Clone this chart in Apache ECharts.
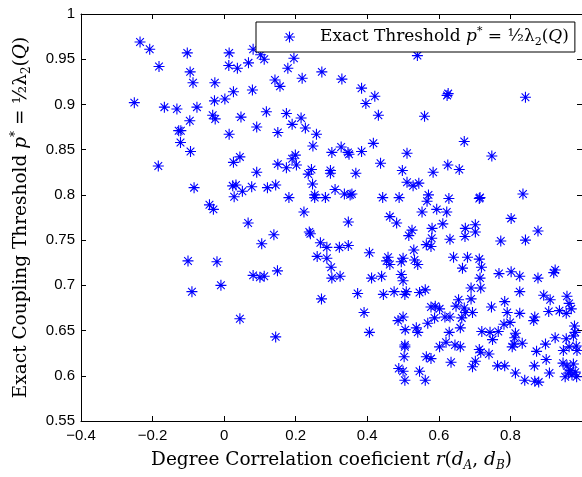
<!DOCTYPE html>
<html>
<head>
<meta charset="utf-8">
<script src="https://cdn.jsdelivr.net/npm/echarts@6/dist/echarts.min.js"></script>
<style>
html,body{margin:0;padding:0;background:#fff;}
#chart{width:582px;height:477px;}
</style>
</head>
<body>
<div id="chart"></div>
<script>
// Degree correlation coefficient r(dA,dB) and exact threshold p*
const rValues = [
-0.235,-0.208,-0.182,-0.251,-0.103,-0.095,-0.087,-0.167,-0.132,-0.076,-0.096,-0.127,-0.121,-0.122,-0.032,-0.025,-0.026,-0.027,0.002,0.014,0.013,0.026,0.014,
0.081,0.102,0.112,0.037,0.068,0.195,0.178,0.273,0.218,0.142,0.156,0.329,0.079,0.384,0.421,0.396,0.431,0.047,0.118,0.174,0.215,0.190,0.227,0.091,0.150,0.258,0.248,0.327,0.417,
0.540,0.623,0.626,0.842,0.560,0.671,
-0.094,-0.184,0.026,-0.084,0.024,0.028,-0.041,-0.030,-0.101,-0.020,
0.044,0.301,0.346,0.349,0.384,0.511,0.199,0.190,0.202,0.150,0.174,0.091,0.244,0.235,0.297,0.297,0.368,0.437,0.498,0.511,0.247,0.033,0.051,0.077,0.121,0.144,0.181,0.253,0.253,0.283,0.310,0.336,0.357,0.352,0.443,0.489,0.223,0.067,0.347,0.463,0.482,0.516,0.139,0.238,0.241,0.105,0.269,0.287,0.322,0.347,0.260,0.287,0.299,0.406,0.458,0.454,0.463,0.500,0.495,0.081,0.100,0.112,0.149,0.301,0.324,0.412,0.440,0.495,
0.748,0.625,0.657,0.584,0.528,0.544,0.571,0.567,0.628,0.713,0.715,0.835,0.553,0.594,0.622,0.802,0.611,0.525,0.581,0.674,0.702,0.702,0.673,0.580,0.631,0.773,0.842,0.877,0.530,0.565,0.578,0.532,0.541,0.641,0.680,0.713,0.719,0.666,0.768,0.802,0.826,0.877,0.925,0.921,0.715,
0.500,0.272,0.373,0.445,0.475,0.505,0.509,0.044,0.391,0.486,0.500,0.506,0.144,0.406,0.505,0.505,0.503,0.488,0.500,0.505,
-0.090,-0.009,
0.690,0.717,0.546,0.562,0.655,0.690,0.784,0.826,0.893,0.911,0.958,0.964,0.970,0.578,0.590,0.602,0.648,0.671,0.674,0.694,0.747,0.791,0.826,0.868,0.865,0.907,0.937,0.956,0.588,0.617,0.631,0.664,0.782,0.799,0.537,0.541,0.569,0.629,0.660,0.720,0.743,0.766,0.750,0.814,0.812,0.810,0.805,0.833,0.979,0.981,0.976,0.602,0.620,0.645,0.660,0.713,0.717,0.740,0.898,0.925,0.956,0.948,0.964,0.984,0.986,0.873,0.565,0.578,0.634,0.702,0.694,0.764,0.784,0.867,0.900,0.947,0.958,0.967,0.976,0.981,0.972,0.985,0.953,0.962,0.546,0.562,0.814,0.840,0.868,0.879,0.909
];
const pValues = [
0.969,0.961,0.942,0.902,0.957,0.936,0.924,0.897,0.895,0.897,0.882,0.871,0.871,0.858,0.888,0.884,0.924,0.904,0.906,0.957,0.943,0.914,0.867,
0.961,0.955,0.950,0.940,0.946,0.951,0.940,0.936,0.929,0.927,0.920,0.928,0.916,0.918,0.909,0.901,0.888,0.886,0.892,0.890,0.885,0.878,0.874,0.875,0.869,0.867,0.854,0.853,0.857,
0.954,0.910,0.912,0.908,0.887,0.859,
0.848,0.832,0.836,0.808,0.810,0.798,0.789,0.784,0.727,0.726,
0.842,0.847,0.847,0.845,0.848,0.846,0.844,0.840,0.833,0.834,0.830,0.825,0.828,0.823,0.827,0.824,0.824,0.835,0.827,0.814,0.812,0.811,0.804,0.809,0.808,0.811,0.797,0.800,0.797,0.797,0.806,0.801,0.801,0.800,0.797,0.797,0.781,0.769,0.770,0.776,0.769,0.755,0.756,0.759,0.757,0.746,0.747,0.742,0.742,0.744,0.732,0.730,0.720,0.736,0.731,0.727,0.723,0.730,0.726,0.711,0.709,0.710,0.716,0.708,0.710,0.708,0.710,0.712,
0.843,0.833,0.828,0.825,0.810,0.813,0.800,0.793,0.796,0.796,0.797,0.801,0.781,0.784,0.781,0.774,0.768,0.761,0.763,0.763,0.767,0.759,0.754,0.752,0.751,0.749,0.750,0.760,0.739,0.745,0.743,0.728,0.723,0.731,0.731,0.729,0.720,0.719,0.713,0.715,0.710,0.708,0.717,0.714,0.708,
0.705,0.685,0.691,0.690,0.693,0.690,0.693,0.663,0.670,0.661,0.665,0.651,0.643,0.648,0.634,0.632,0.621,0.608,0.605,0.595,
0.693,0.700,
0.697,0.697,0.692,0.695,0.684,0.685,0.682,0.693,0.689,0.684,0.688,0.680,0.674,0.676,0.677,0.674,0.677,0.675,0.670,0.670,0.676,0.670,0.669,0.665,0.661,0.671,0.672,0.669,0.664,0.665,0.665,0.664,0.657,0.659,0.653,0.648,0.658,0.648,0.653,0.649,0.648,0.649,0.640,0.647,0.642,0.635,0.632,0.636,0.655,0.648,0.644,0.632,0.637,0.634,0.632,0.629,0.626,0.624,0.635,0.642,0.641,0.628,0.632,0.633,0.628,0.627,0.621,0.619,0.615,0.616,0.610,0.611,0.611,0.611,0.618,0.614,0.611,0.606,0.613,0.604,0.601,0.599,0.599,0.603,0.605,0.595,0.603,0.595,0.594,0.593,0.603
];
const xTicks = [-0.4, -0.2, 0, 0.2, 0.4, 0.6, 0.8, 1];
const yTicks = [0.55, 0.6, 0.65, 0.7, 0.75, 0.8, 0.85, 0.9, 0.95, 1];

const points = rValues.map((r, i) => [r, pValues[i]]);

const asterisk = 'path://M9 0H11V20H9Z M0 9H20V11H0Z M3.7 2.3L17.7 16.3L16.3 17.7L2.3 3.7Z M17.7 3.7L3.7 17.7L2.3 16.3L16.3 2.3Z';

const serif = '"DejaVu Serif", "Liberation Serif", serif';
const sans = '"Liberation Sans", Arial, sans-serif';

function fmtTick(v) {
  let s = String(Math.round(v * 100) / 100);
  return s.replace('-', '\u2212');
}

function makeRich(size) {
  const small = Math.round(size * 0.65);
  return {
    i: { fontFamily: serif, fontStyle: 'italic', fontSize: size, color: '#000' },
    sub: { fontFamily: serif, fontSize: small, verticalAlign: 'bottom', color: '#000' },
    isub: { fontFamily: serif, fontStyle: 'italic', fontSize: small, verticalAlign: 'bottom', color: '#000' },
    sup: { fontFamily: serif, fontSize: small, verticalAlign: 'top', color: '#000' },
    gap: { width: 20 }
  };
}

const chart = echarts.init(document.getElementById('chart'), null, { renderer: 'canvas' });
const option = {
  animation: false,
  backgroundColor: '#fff',
  grid: { left: 81, top: 14, right: -4, bottom: 49, containLabel: false },
  legend: {
    left: 256, top: 22,
    padding: [4, 6, 4, 28],
    itemWidth: 11, itemHeight: 11,
    borderColor: '#000', borderWidth: 1, borderRadius: 0,
    backgroundColor: '#fff',
    data: [{ name: 'Exact Threshold', icon: asterisk, itemStyle: { color: '#0000ff' } }],
    formatter: function () {
      return '{gap|}Exact Threshold {i|p}{sup|*} = ½λ{sub|2}({i|Q})';
    },
    textStyle: {
      fontFamily: serif, fontSize: 17, color: '#000', lineHeight: 22,
      rich: makeRich(17)
    }
  },
  xAxis: [{
    type: 'value', min: -0.4, max: 1, interval: 0.2,
    position: 'bottom',
    name: 'Degree Correlation coeficient {i|r}({i|d}{isub|A}, {i|d}{isub|B})',
    nameLocation: 'middle', nameGap: 28,
    nameTextStyle: { fontFamily: serif, fontSize: 18.5, color: '#000', lineHeight: 23, rich: makeRich(18.5) },
    axisLine: { show: true, onZero: false, lineStyle: { color: '#000', width: 1 } },
    axisTick: { show: true, inside: true, length: 5, lineStyle: { color: '#000' } },
    axisLabel: { show: true, margin: 7, fontFamily: sans, fontSize: 15, color: '#000', showMaxLabel: false, formatter: fmtTick },
    splitLine: { show: false }
  }, {
    type: 'value', min: -0.4, max: 1, interval: 0.2,
    position: 'top',
    axisLine: { show: true, onZero: false, lineStyle: { color: '#000', width: 1 } },
    axisTick: { show: true, inside: true, length: 5, lineStyle: { color: '#000' } },
    axisLabel: { show: false },
    splitLine: { show: false }
  }],
  yAxis: [{
    type: 'value', min: 0.55, max: 1, interval: 0.05,
    position: 'left',
    name: 'Exact Coupling Threshold {i|p}{sup|*} = ½λ{sub|2}({i|Q})',
    nameLocation: 'middle', nameGap: 48,
    nameTextStyle: { fontFamily: serif, fontSize: 18.5, color: '#000', lineHeight: 23, rich: makeRich(18.5) },
    axisLine: { show: true, onZero: false, lineStyle: { color: '#000', width: 1 } },
    axisTick: { show: true, inside: true, length: 5, lineStyle: { color: '#000' } },
    axisLabel: { show: true, margin: 6, fontFamily: sans, fontSize: 15, color: '#000', formatter: fmtTick },
    splitLine: { show: false }
  }, {
    type: 'value', min: 0.55, max: 1, interval: 0.05,
    position: 'right',
    axisLine: { show: true, onZero: false, lineStyle: { color: '#000', width: 1 } },
    axisTick: { show: true, inside: true, length: 5, lineStyle: { color: '#000' } },
    axisLabel: { show: false },
    splitLine: { show: false }
  }],
  series: [{
    name: 'Exact Threshold',
    type: 'scatter',
    xAxisIndex: 0, yAxisIndex: 0,
    symbol: asterisk,
    symbolSize: 11,
    itemStyle: { color: '#0000ff', opacity: 1 },
    data: points
  }]
};
chart.setOption(option);
</script>
</body>
</html>
